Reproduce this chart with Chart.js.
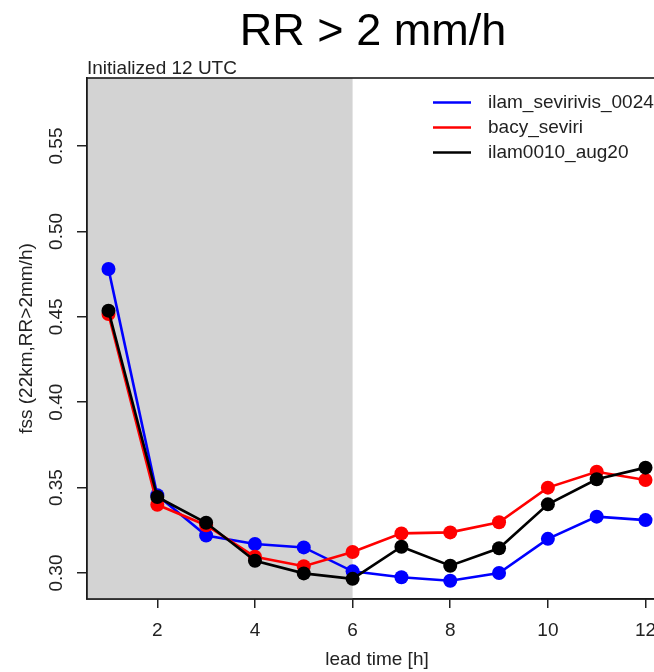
<!DOCTYPE html>
<html><head><meta charset="utf-8">
<script src="https://cdn.jsdelivr.net/npm/chart.js@4.4.1/dist/chart.umd.min.js"></script>
<style>
html,body{margin:0;padding:0;background:#fff;overflow:hidden;width:654px;height:672px}
#wrap{position:relative;width:680px;height:672px}
canvas{display:block}
</style></head><body>
<div id="wrap"><canvas id="c" width="680" height="672"></canvas></div>
<script>
// ---- data ----
const leadTimes = [1, 2, 3, 4, 5, 6, 7, 8, 9, 10, 11, 12];
const ilamSevirivis = [0.478, 0.3455, 0.322, 0.317, 0.315, 0.301, 0.2975, 0.2955, 0.300, 0.320, 0.333, 0.331];
const bacySeviri   = [0.4516, 0.340, 0.328, 0.3095, 0.304, 0.3123, 0.3232, 0.3238, 0.3297, 0.350, 0.3593, 0.3545];
const ilamAug20    = [0.4536, 0.3445, 0.3294, 0.3072, 0.2998, 0.2966, 0.3154, 0.3043, 0.3145, 0.3402, 0.3549, 0.3617];
const seriesNames  = ['ilam_sevirivis_0024', 'bacy_seviri', 'ilam0010_aug20'];
const seriesColors = ['#0000ff', '#ff0000', '#000000'];
const xTickValues = [2, 4, 6, 8, 10, 12];
const yTickValues = [0.30, 0.35, 0.40, 0.45, 0.50, 0.55];
const yTickLabels = ['0.30', '0.35', '0.40', '0.45', '0.50', '0.55'];
const spinUpEnd = 6;
const titleText = 'RR > 2 mm/h';
const subtitleText = 'Initialized 12 UTC';
const xTitle = 'lead time [h]';
const yTitle = 'fss (22km,RR>2mm/h)';

const FONT = '"Liberation Sans", Arial, Helvetica, sans-serif';
const seriesValues = [ilamSevirivis, bacySeviri, ilamAug20];

const decor = {
  id: 'decor',
  beforeDatasetsDraw(chart) {
    const { ctx, chartArea: a, scales: { x } } = chart;
    const xe = x.getPixelForValue(spinUpEnd);
    ctx.save();
    ctx.fillStyle = '#d3d3d3';
    ctx.fillRect(a.left, a.top, xe - a.left, a.bottom - a.top);
    ctx.restore();
  },
  afterDraw(chart) {
    const { ctx, chartArea: a, scales: { y } } = chart;
    ctx.save();
    ctx.strokeStyle = '#1a1a1a';
    ctx.lineWidth = 1.6;
    ctx.strokeRect(a.left, a.top, a.right - a.left, a.bottom - a.top);
    ctx.fillStyle = '#000';
    ctx.font = '45px ' + FONT;
    ctx.textAlign = 'center';
    ctx.textBaseline = 'alphabetic';
    ctx.fillText(titleText, 373, 45);
    ctx.font = '19px ' + FONT;
    ctx.textAlign = 'left';
    ctx.fillStyle = '#222';
    ctx.fillText(subtitleText, a.left, 74);
    ctx.textAlign = 'center';
    ctx.fillText(xTitle, (a.left + a.right) / 2, 665);
    yTickValues.forEach((v, i) => {
      const py = y.getPixelForValue(v);
      ctx.save();
      ctx.translate(62, py);
      ctx.rotate(-Math.PI / 2);
      ctx.textAlign = 'center';
      ctx.fillText(yTickLabels[i], 0, 0);
      ctx.restore();
    });
    ctx.save();
    ctx.translate(32, (a.top + a.bottom) / 2);
    ctx.rotate(-Math.PI / 2);
    ctx.textAlign = 'center';
    ctx.fillText(yTitle, 0, 0);
    ctx.restore();
    ctx.textAlign = 'left';
    ctx.textBaseline = 'middle';
    seriesNames.forEach((name, i) => {
      const ly = 102.5 + i * 25;
      ctx.strokeStyle = seriesColors[i];
      ctx.lineWidth = 2.5;
      ctx.beginPath();
      ctx.moveTo(433, ly);
      ctx.lineTo(471, ly);
      ctx.stroke();
      ctx.fillStyle = '#222';
      ctx.fillText(name, 488, ly);
    });
    ctx.restore();
  }
};

const datasets = seriesNames.map((name, i) => ({
  label: name,
  data: leadTimes.map((t, j) => ({ x: t, y: seriesValues[i][j] })),
  borderColor: seriesColors[i],
  backgroundColor: seriesColors[i],
  borderWidth: 2.6,
  pointRadius: 7,
  pointBorderWidth: 0,
  pointBackgroundColor: seriesColors[i],
  tension: 0,
  order: 3 - i
}));

new Chart(document.getElementById('c'), {
  type: 'line',
  data: { datasets },
  options: {
    responsive: false,
    devicePixelRatio: 1,
    animation: false,
    layout: { padding: { top: 78, right: 13, left: 0, bottom: 0 } },
    plugins: { legend: { display: false }, tooltip: { enabled: false }, title: { display: false } },
    scales: {
      x: {
        type: 'linear',
        min: 0.56,
        max: 12.44,
        afterBuildTicks: (s) => { s.ticks = xTickValues.map(v => ({ value: v })); },
        afterFit: (s) => { s.height = 73; },
        grid: { drawOnChartArea: false, drawTicks: true, tickLength: 9, color: '#222', lineWidth: 1.5 },
        border: { display: true, color: '#1a1a1a', width: 1.6 },
        ticks: { color: '#222', font: { family: FONT, size: 19 }, padding: 11, maxRotation: 0, autoSkip: false }
      },
      y: {
        type: 'linear',
        min: 0.2848,
        max: 0.5898,
        afterBuildTicks: (s) => { s.ticks = yTickValues.map(v => ({ value: v })); },
        afterFit: (s) => { s.width = 87; },
        grid: { drawOnChartArea: false, drawTicks: true, tickLength: 10, color: '#222', lineWidth: 1.5 },
        border: { display: true, color: '#1a1a1a', width: 1.6 },
        ticks: { display: false }
      }
    }
  },
  plugins: [decor]
});
</script>
</body></html>
